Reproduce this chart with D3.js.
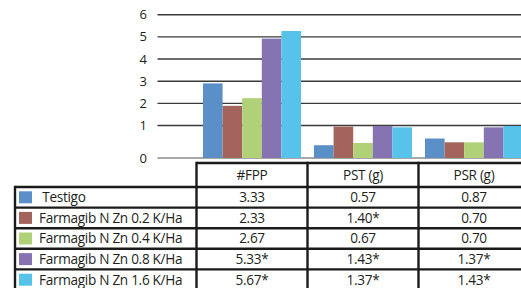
<!DOCTYPE html>
<html>
<head>
<meta charset="utf-8">
<script src="https://cdn.jsdelivr.net/npm/d3@7"></script>
<style>
  html, body { margin: 0; padding: 0; background: #fff; }
  svg { display: block; }
  text { font-family: "Open Sans", "DejaVu Sans", sans-serif; fill: #231f20; }
</style>
</head>
<body>
<svg id="chart" width="521" height="288"></svg>
<script>
// ---- data ----
const categories = ["#FPP", "PST (g)", "PSR (g)"];
const seriesNames = [" Testigo", "Farmagib N Zn 0.2 K/Ha", "Farmagib N Zn 0.4 K/Ha", "Farmagib N Zn 0.8 K/Ha", "Farmagib N Zn 1.6 K/Ha"];
const testigo = [3.33, 0.57, 0.87];
const zn02 = [2.33, 1.40, 0.70];
const zn04 = [2.67, 0.67, 0.70];
const zn08 = [5.33, 1.43, 1.37];
const zn16 = [5.67, 1.37, 1.43];
const sigTestigo = [false, false, false];
const sig02 = [false, true, false];
const sig04 = [false, false, false];
const sig08 = [true, true, true];
const sig16 = [true, true, true];
const yTicks = [0, 1, 2, 3, 4, 5, 6];
const colors = ["#5b8fc7", "#a2645c", "#b0d178", "#8674b2", "#57c3ea"];

const seriesValues = [testigo, zn02, zn04, zn08, zn16];
const seriesSig = [sigTestigo, sig02, sig04, sig08, sig16];

// ---- layout ----
const svg = d3.select("#chart");
const plotLeft = 157.5, plotRight = 521;
const baseY = 158;
const tableLeft = 196.5, tableRight = 529.5;
const legendLeft = 15;
const headerTop = 163, headerBottom = 187;
const rowH = 20.6;
const fs = 13.6;
const ls = "-0.3px";

const x = d3.scaleBand().domain(categories).range([tableLeft, tableRight]);
const xs = d3.scaleBand().domain(seriesNames).range([0, x.bandwidth()]).paddingInner(0).paddingOuter(0.33);
const yBar = d3.scaleLinear().domain([0, 6]).range([baseY, baseY - 6 * 22.4]);
const yAxis = d3.scaleLinear().domain([0, 1, 6]).range([baseY, 125.5, 14.7]);

// gridlines
const grid = svg.append("g");
grid.selectAll("line").data(yTicks).join("line")
  .attr("x1", plotLeft).attr("x2", plotRight)
  .attr("y1", d => yAxis(d)).attr("y2", d => yAxis(d))
  .attr("stroke", d => d === 0 ? "#8a8a8a" : "#3a3a3a")
  .attr("stroke-width", 1.4);
grid.selectAll("text").data(yTicks).join("text")
  .attr("x", 147).attr("y", d => yAxis(d))
  .attr("dy", "0.35em")
  .attr("text-anchor", "end")
  .attr("font-size", 13)
  .text(d => d);

// bars
const groups = svg.append("g").selectAll("g").data(categories).join("g")
  .attr("transform", d => `translate(${x(d)},0)`);
groups.selectAll("rect")
  .data((c, ci) => seriesNames.map((s, si) => ({ s, si, v: seriesValues[si][ci] })))
  .join("rect")
  .attr("x", d => xs(d.s))
  .attr("width", xs.bandwidth())
  .attr("y", d => yBar(d.v))
  .attr("height", d => baseY - yBar(d.v))
  .attr("fill", d => colors[d.si]);

// table
const fmt = d3.format(".2f");
const tbl = svg.append("g");
const lineColor = "#1a1a1a";
const lw = 2.4;
const rowsTop = headerBottom;
const rowY = i => rowsTop + i * rowH;
const tableBottom = rowY(seriesNames.length);

tbl.selectAll("text.hdr").data(categories).join("text")
  .attr("class", "hdr")
  .attr("x", d => x(d) + x.bandwidth() / 2)
  .attr("y", (headerTop + headerBottom) / 2)
  .attr("dy", "0.36em")
  .attr("text-anchor", "middle")
  .attr("font-size", fs)
  .style("letter-spacing", ls)
  .text(d => d);

seriesNames.forEach((s, si) => {
  const cy = rowY(si) + rowH / 2;
  tbl.append("rect")
    .attr("x", 19).attr("y", cy - 6).attr("width", 13).attr("height", 12)
    .attr("fill", colors[si]);
  tbl.append("text")
    .attr("x", 39).attr("y", cy).attr("dy", "0.36em")
    .attr("font-size", fs)
    .style("letter-spacing", ls)
    .style("white-space", "pre")
    .text(s);
  categories.forEach((c, ci) => {
    tbl.append("text")
      .attr("x", x(c) + x.bandwidth() / 2).attr("y", cy).attr("dy", "0.36em")
      .attr("text-anchor", "middle")
      .attr("font-size", fs)
      .style("letter-spacing", ls)
      .text(fmt(seriesValues[si][ci]) + (seriesSig[si][ci] ? "*" : ""));
  });
});

const hLines = [{ y: headerTop, x1: tableLeft, x2: tableRight }];
for (let i = 0; i <= seriesNames.length; i++) hLines.push({ y: rowY(i), x1: legendLeft, x2: tableRight });
tbl.selectAll("line.h").data(hLines).join("line")
  .attr("class", "h")
  .attr("x1", d => d.x1).attr("x2", d => d.x2)
  .attr("y1", d => d.y).attr("y2", d => d.y)
  .attr("stroke", lineColor).attr("stroke-width", lw);
const vLines = [{ x: legendLeft, y1: rowsTop, y2: tableBottom }]
  .concat(categories.map(c => ({ x: x(c), y1: headerTop, y2: tableBottom })))
  .concat([{ x: tableRight, y1: headerTop, y2: tableBottom }]);
tbl.selectAll("line.v").data(vLines).join("line")
  .attr("class", "v")
  .attr("x1", d => d.x).attr("x2", d => d.x)
  .attr("y1", d => d.y1 - lw / 2).attr("y2", d => d.y2 + lw / 2)
  .attr("stroke", lineColor).attr("stroke-width", lw);
</script>
</body>
</html>
